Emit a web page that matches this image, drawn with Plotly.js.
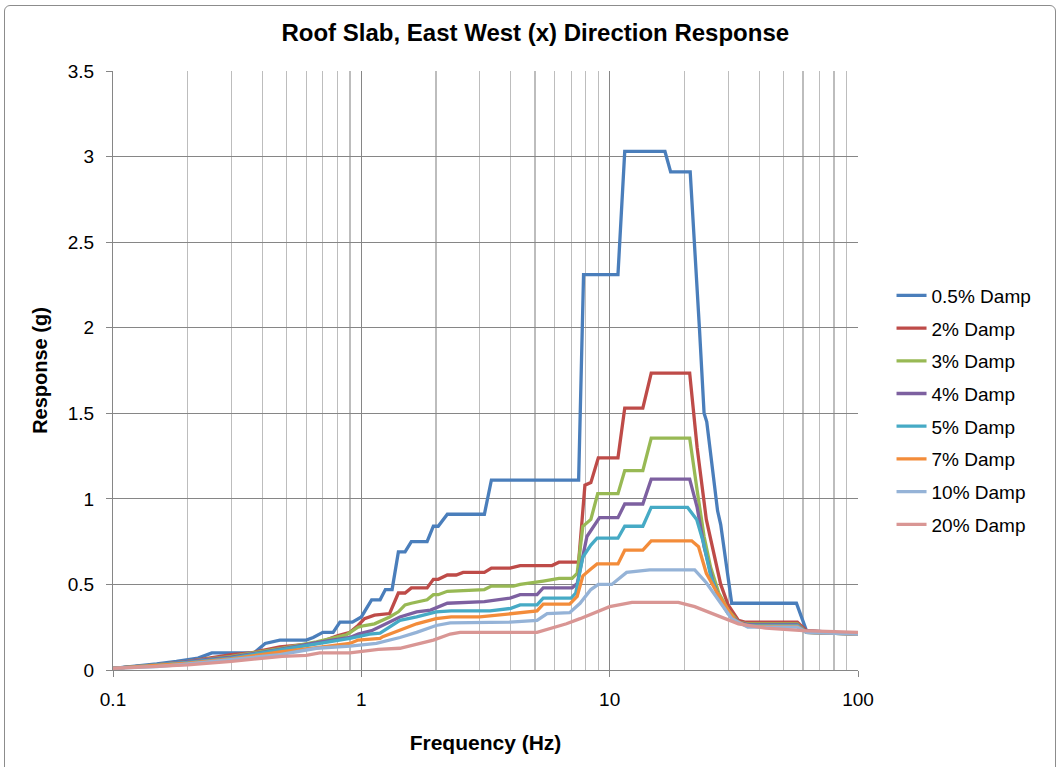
<!DOCTYPE html>
<html>
<head>
<meta charset="utf-8">
<script src="https://cdn.plot.ly/plotly-3.0.1.min.js"></script>
<style>
  html, body { margin: 0; padding: 0; background: #ffffff; }
  #frame { position: absolute; left: 4px; top: 5px; width: 1050px; height: 770px; border: 1px solid #8c8c8c; border-radius: 6px; pointer-events: none; z-index: 5; }
  #chart { width: 1060px; height: 767px; }
</style>
</head>
<body>
<div id="frame"></div>
<div id="chart"></div>
<script>
// Series names
const seriesNames = ["0.5% Damp", "2% Damp", "3% Damp", "4% Damp", "5% Damp", "7% Damp", "10% Damp", "20% Damp"];
const seriesColors = ["#4a7ebb", "#be4b48", "#98b954", "#7d60a0", "#46aac5", "#f38c3a", "#95b3d7", "#d99694"];

// 0.5% damping
const freq05 = [0.1, 0.12, 0.15, 0.18, 0.2, 0.22, 0.24, 0.25, 0.37, 0.41, 0.47, 0.6, 0.64, 0.7, 0.77, 0.82, 0.92, 1.0, 1.1, 1.19, 1.25, 1.33, 1.41, 1.5, 1.59, 1.84, 1.95, 2.04, 2.22, 3.13, 3.34, 7.5, 7.85, 10.8, 11.5, 16.7, 17.6, 21.1, 23, 24, 24.6, 26, 27.2, 28, 31, 56.5, 62, 80, 100];
const resp05 = [0.01, 0.02, 0.035, 0.05, 0.06, 0.07, 0.09, 0.10, 0.10, 0.155, 0.175, 0.175, 0.19, 0.22, 0.22, 0.28, 0.28, 0.31, 0.41, 0.41, 0.47, 0.47, 0.69, 0.69, 0.75, 0.75, 0.84, 0.84, 0.91, 0.91, 1.11, 1.11, 2.31, 2.31, 3.03, 3.03, 2.91, 2.91, 1.99, 1.50, 1.45, 1.15, 0.93, 0.85, 0.39, 0.39, 0.23, 0.22, 0.21];

// 2% damping
const freq2 = [0.1, 0.15, 0.2, 0.25, 0.3, 0.36, 0.47, 0.66, 0.8, 0.9, 0.97, 1.03, 1.13, 1.3, 1.41, 1.5, 1.59, 1.84, 1.95, 2.04, 2.22, 2.41, 2.57, 3.13, 3.34, 3.97, 4.36, 5.86, 6.25, 7.5, 7.95, 8.4, 9.0, 10.8, 11.5, 13.6, 14.7, 21.0, 22.5, 24.5, 26, 28, 30, 33, 35, 57, 62, 100];
const resp2 = [0.01, 0.03, 0.05, 0.07, 0.09, 0.10, 0.135, 0.155, 0.20, 0.22, 0.26, 0.30, 0.32, 0.33, 0.45, 0.45, 0.48, 0.48, 0.53, 0.53, 0.555, 0.555, 0.57, 0.57, 0.595, 0.595, 0.61, 0.61, 0.63, 0.63, 1.08, 1.095, 1.24, 1.24, 1.53, 1.53, 1.735, 1.735, 1.30, 0.88, 0.72, 0.50, 0.38, 0.29, 0.28, 0.28, 0.23, 0.21];

// 3% damping
const freq3 = [0.1, 0.15, 0.2, 0.3, 0.47, 0.66, 0.87, 0.97, 1.03, 1.13, 1.30, 1.41, 1.50, 1.59, 1.84, 1.95, 2.04, 2.22, 3.13, 3.34, 4.1, 4.36, 5.4, 6.25, 7.06, 7.4, 7.8, 8.4, 8.95, 10.8, 11.5, 13.6, 14.7, 21.0, 22.5, 24, 25.5, 27.5, 30, 33, 36, 57, 62, 100];
const resp3 = [0.01, 0.03, 0.05, 0.08, 0.125, 0.165, 0.205, 0.25, 0.26, 0.27, 0.31, 0.34, 0.38, 0.39, 0.41, 0.44, 0.44, 0.46, 0.47, 0.49, 0.49, 0.50, 0.52, 0.535, 0.535, 0.565, 0.84, 0.88, 1.03, 1.03, 1.165, 1.165, 1.355, 1.355, 1.05, 0.78, 0.60, 0.45, 0.35, 0.28, 0.27, 0.27, 0.22, 0.21];

// 4% damping
const freq4 = [0.1, 0.15, 0.2, 0.3, 0.47, 0.66, 0.9, 0.97, 1.1, 1.43, 1.67, 1.9, 2.22, 3.13, 3.97, 4.36, 5.1, 5.4, 7.06, 7.4, 8.1, 8.6, 9.1, 10.8, 11.5, 13.6, 14.7, 21.0, 22.5, 24, 26, 28, 30, 33, 36, 57, 62, 100];
const resp4 = [0.01, 0.03, 0.05, 0.075, 0.12, 0.16, 0.19, 0.21, 0.23, 0.31, 0.34, 0.35, 0.39, 0.40, 0.42, 0.44, 0.44, 0.48, 0.48, 0.505, 0.78, 0.84, 0.89, 0.89, 0.97, 0.97, 1.115, 1.115, 0.95, 0.72, 0.52, 0.40, 0.33, 0.28, 0.265, 0.265, 0.22, 0.21];

// 5% damping
const freq5 = [0.1, 0.15, 0.2, 0.3, 0.48, 0.66, 0.9, 1.08, 1.19, 1.43, 1.67, 2.0, 2.3, 3.3, 4.0, 4.36, 5.1, 5.4, 7.0, 7.3, 7.8, 8.4, 8.9, 10.8, 11.5, 13.6, 14.7, 20.6, 22.4, 23.9, 25.5, 27.5, 30, 33, 36, 57, 62, 100];
const resp5 = [0.01, 0.03, 0.045, 0.07, 0.12, 0.15, 0.185, 0.21, 0.215, 0.29, 0.31, 0.34, 0.345, 0.345, 0.36, 0.38, 0.38, 0.42, 0.42, 0.45, 0.66, 0.73, 0.77, 0.77, 0.84, 0.84, 0.95, 0.95, 0.88, 0.74, 0.55, 0.42, 0.33, 0.275, 0.26, 0.26, 0.22, 0.21];

// 7% damping
const freq7 = [0.1, 0.15, 0.2, 0.3, 0.48, 0.66, 0.9, 0.97, 1.19, 1.22, 1.67, 2.0, 2.3, 3.0, 4.0, 5.1, 5.4, 6.9, 7.4, 7.8, 8.4, 8.9, 10.8, 11.5, 13.6, 14.7, 21.4, 22.8, 24.5, 27.1, 29.4, 32, 36, 57, 62, 100];
const resp7 = [0.01, 0.025, 0.04, 0.065, 0.107, 0.13, 0.155, 0.175, 0.185, 0.195, 0.27, 0.30, 0.31, 0.31, 0.33, 0.345, 0.385, 0.385, 0.43, 0.55, 0.59, 0.62, 0.62, 0.70, 0.70, 0.755, 0.755, 0.72, 0.565, 0.45, 0.37, 0.29, 0.255, 0.255, 0.22, 0.21];

// 10% damping
const freq10 = [0.1, 0.15, 0.2, 0.3, 0.357, 0.47, 0.66, 0.9, 1.15, 1.22, 1.43, 1.67, 2.0, 2.28, 3.97, 5.1, 5.6, 6.9, 7.6, 8.4, 9.0, 10.2, 11.7, 14.5, 22.0, 24.5, 28, 31, 36, 57, 62, 100];
const resp10 = [0.01, 0.02, 0.035, 0.06, 0.074, 0.09, 0.127, 0.14, 0.156, 0.165, 0.19, 0.22, 0.26, 0.275, 0.28, 0.29, 0.33, 0.335, 0.39, 0.47, 0.50, 0.50, 0.57, 0.585, 0.585, 0.51, 0.39, 0.30, 0.25, 0.25, 0.22, 0.21];

// 20% damping
const freq20 = [0.1, 0.15, 0.2, 0.3, 0.357, 0.48, 0.6, 0.68, 0.9, 1.0, 1.17, 1.43, 1.95, 2.28, 2.5, 5.1, 5.9, 6.7, 7.6, 8.9, 10, 12.3, 18.9, 22, 28, 33, 42.5, 60, 100];
const resp20 = [0.01, 0.02, 0.03, 0.05, 0.06, 0.08, 0.085, 0.10, 0.10, 0.107, 0.12, 0.127, 0.175, 0.21, 0.22, 0.22, 0.245, 0.27, 0.30, 0.34, 0.37, 0.395, 0.395, 0.37, 0.31, 0.27, 0.245, 0.23, 0.22];

// Axis tick values / labels
const yTickVals = [0, 0.5, 1, 1.5, 2, 2.5, 3, 3.5];
const yTickText = ["0", "0.5", "1", "1.5", "2", "2.5", "3", "3.5"];
const xTickVals = [0.1, 1, 10, 100];
const xTickText = ["0.1", "1", "10", "100"];

const xs = [freq05, freq2, freq3, freq4, freq5, freq7, freq10, freq20];
const ys = [resp05, resp2, resp3, resp4, resp5, resp7, resp10, resp20];

const FONT = '"Liberation Sans", Arial, sans-serif';

// Series drawn in order (later series on top, as in the original)
const traces = [];
for (let i = 0; i < xs.length; i++) {
  traces.push({
    type: 'scatter',
    mode: 'lines',
    x: xs[i],
    y: ys[i],
    name: seriesNames[i],
    legendgroup: 'g' + i,
    line: { color: seriesColors[i], width: 3.3 },
    hoverinfo: 'x+y+name'
  });
}

const layout = {
  width: 1060,
  height: 767,
  paper_bgcolor: '#ffffff',
  plot_bgcolor: '#ffffff',
  margin: { l: 113, r: 202, t: 71, b: 97, pad: 0 },
  font: { family: FONT, color: '#000000', size: 19 },
  title: {
    text: '<b>Roof Slab, East West (x) Direction Response</b>',
    font: { family: FONT, size: 24, color: '#000000' },
    x: 0.505, xref: 'container', xanchor: 'center',
    y: 0.957, yref: 'container', yanchor: 'middle'
  },
  xaxis: {
    type: 'log',
    range: [-1, 2],
    tickvals: xTickVals,
    ticktext: xTickText,
    ticks: 'outside',
    ticklen: 6,
    tickcolor: '#868686',
    ticklabelstandoff: 6,
    showline: true,
    linecolor: '#868686',
    linewidth: 1,
    showgrid: true,
    gridcolor: '#868686',
    gridwidth: 1,
    zeroline: false,
    tickfont: { family: FONT, size: 19, color: '#000000' },
    minor: { showgrid: true, gridcolor: '#bdbdbd', gridwidth: 1.2, dtick: 'D1', ticks: '' },
    title: { text: '<b>Frequency (Hz)</b>', font: { family: FONT, size: 21, color: '#000000' }, standoff: 26 }
  },
  yaxis: {
    range: [0, 3.5],
    tickvals: yTickVals,
    ticktext: yTickText,
    ticks: 'outside',
    ticklen: 6,
    tickcolor: '#868686',
    ticklabelstandoff: 8,
    showline: true,
    linecolor: '#868686',
    linewidth: 1,
    showgrid: true,
    gridcolor: '#868686',
    gridwidth: 1,
    zeroline: false,
    tickfont: { family: FONT, size: 19, color: '#000000' },
    title: { text: '<b>Response (g)</b>', font: { family: FONT, size: 20, color: '#000000' }, standoff: 14 }
  },
  legend: {
    x: 1.045, xanchor: 'left',
    y: 0.434, yanchor: 'middle',
    font: { family: FONT, size: 19, color: '#000000' },
    bgcolor: 'rgba(0,0,0,0)',
    borderwidth: 0,
    tracegroupgap: 5,
    traceorder: 'grouped',
    itemwidth: 30
  },
  showlegend: true
};

Plotly.newPlot('chart', traces, layout, { displayModeBar: false, staticPlot: true });
</script>
</body>
</html>
